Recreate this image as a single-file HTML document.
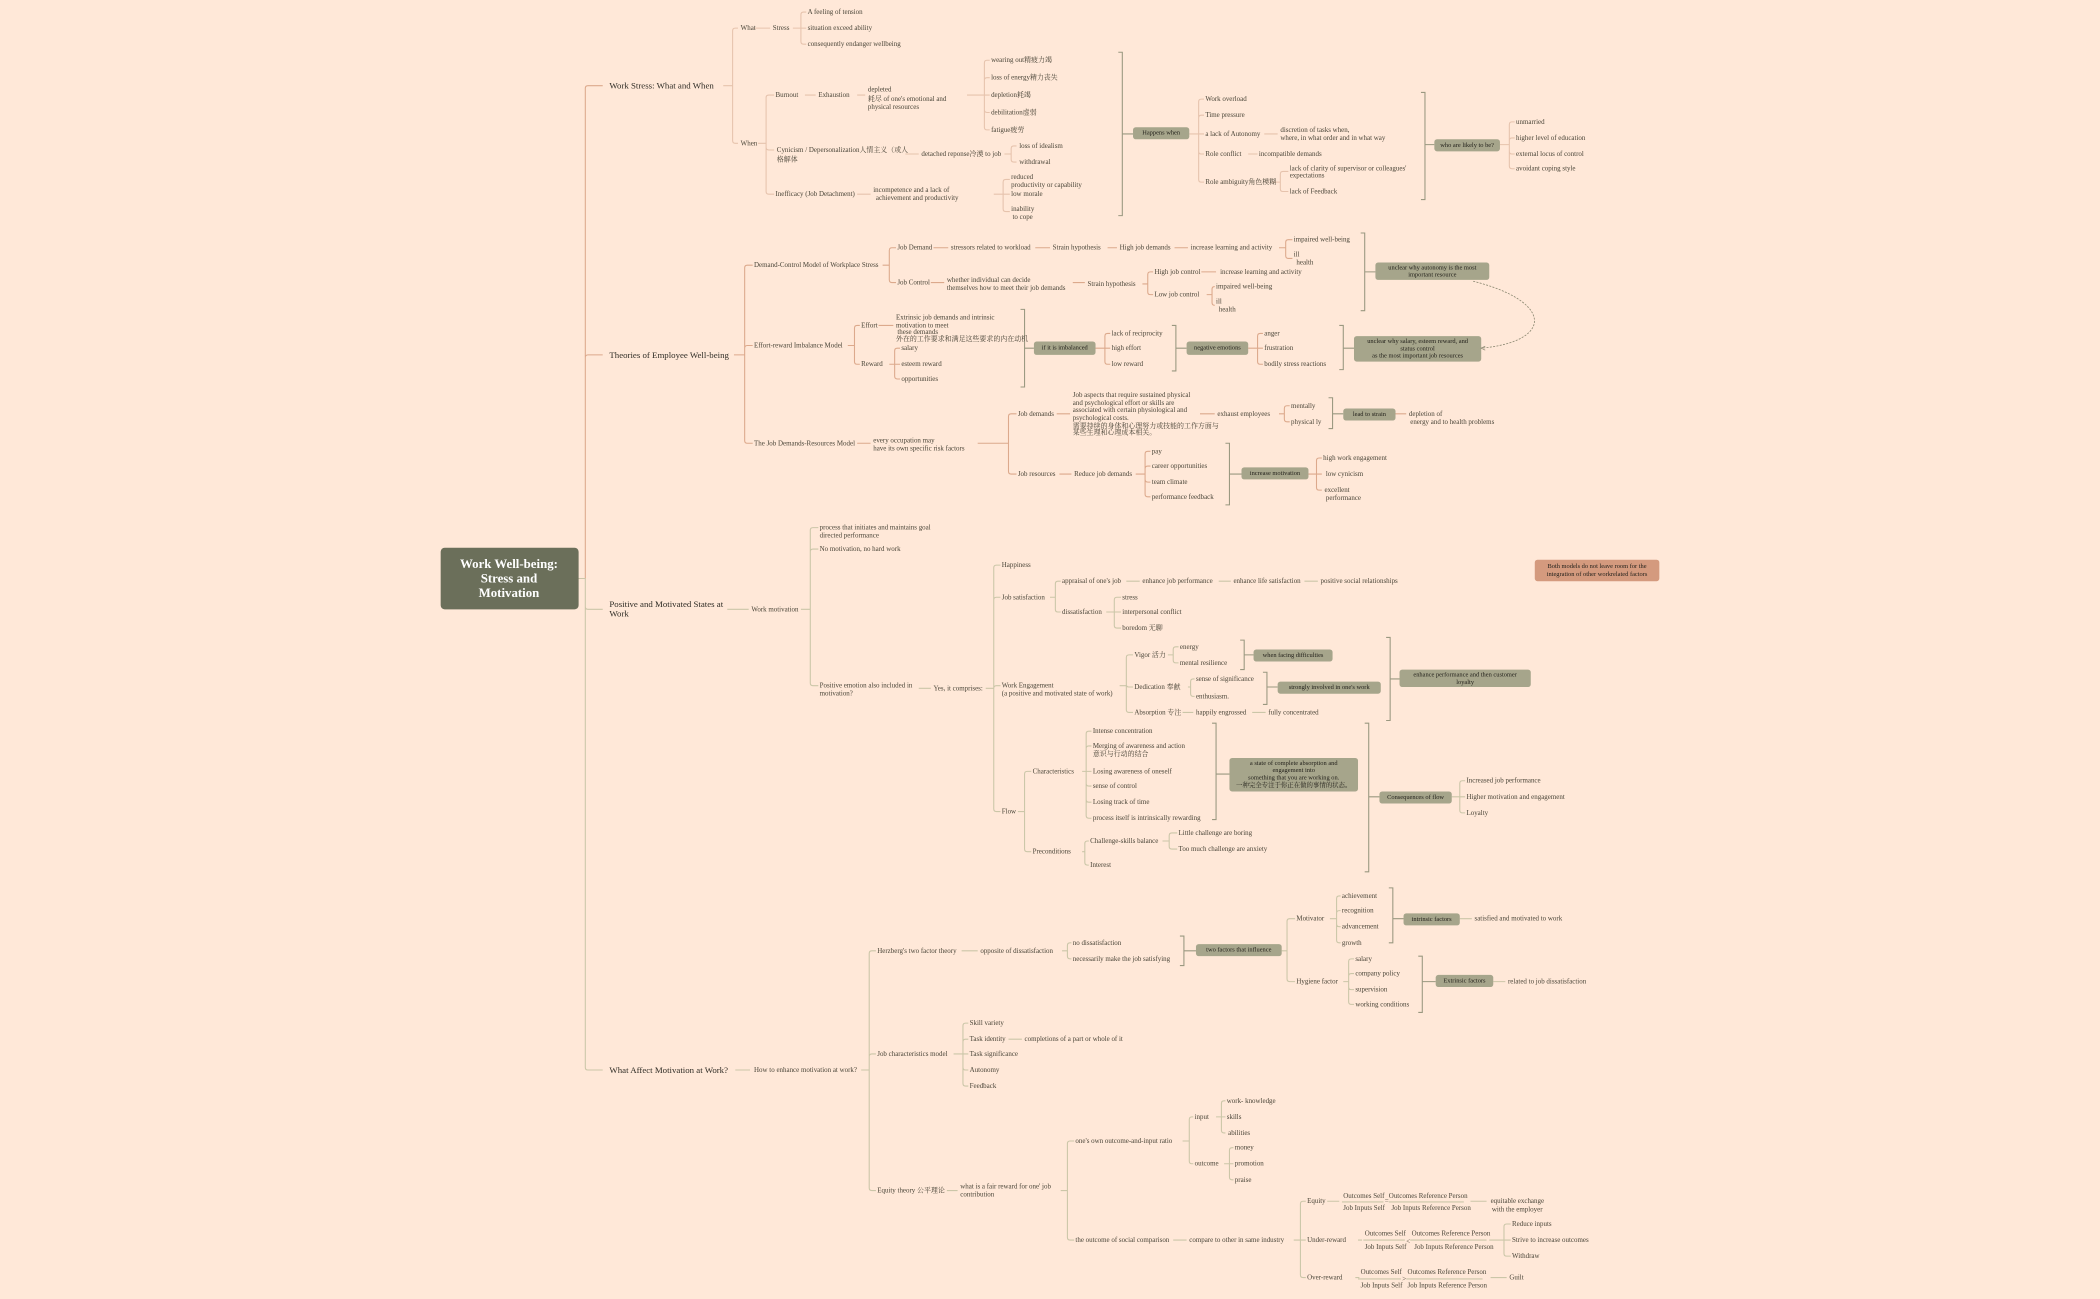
<!DOCTYPE html>
<html><head><meta charset="utf-8"><style>
html,body{margin:0;padding:0;background:#ffe8d8;}
svg{display:block}
text{font-family:"Liberation Serif","Noto Serif CJK SC","Noto Sans CJK SC",serif;dominant-baseline:central}
.s{font-size:5.2px;fill:#4a4538}
.b{font-size:6.6px;fill:#2f2c25}
.r{font-size:9.6px;fill:#fff;font-weight:bold;text-anchor:middle}
.bt{font-size:4.8px;fill:#24221c;text-anchor:middle}
.bx{fill:#a6a58b}
</style></head><body>
<svg id="m" width="2100" height="1299" viewBox="0 0 1568 970" xmlns="http://www.w3.org/2000/svg">
<rect width="1568" height="970" fill="#ffe8d8"/>
<g id="lines" fill="none" stroke-width="0.8"></g>
<rect x="329" y="409" width="103" height="46" rx="3" fill="#6b6f5a"/>
<text class="r" x="380" y="421">Work Well-being:</text>
<text class="r" x="380" y="432">Stress and</text>
<text class="r" x="380" y="443">Motivation</text>
<text class="b" x="455" y="64">Work Stress: What and When</text>
<text class="b" x="455" y="265">Theories of Employee Well-being</text>
<text class="b" x="455" y="451">Positive and Motivated States at</text>
<text class="b" x="455" y="458">Work</text>
<text class="b" x="455" y="799">What Affect Motivation at Work?</text>
<g class="s">
<text x="553" y="21">What</text><text x="577" y="21">Stress</text>
<text x="603" y="9">A feeling of tension</text>
<text x="603" y="21">situation exceed ability</text>
<text x="603" y="33">consequently endanger wellbeing</text>
<text x="553" y="107">When</text>
<text x="579" y="71">Burnout</text><text x="611" y="71">Exhaustion</text>
<text x="648" y="67">depleted</text><text x="648" y="74">耗尽 of one's emotional and</text><text x="648" y="80">physical resources</text>
<text x="740" y="45">wearing out精疲力竭</text><text x="740" y="58">loss of energy精力丧失</text><text x="740" y="71">depletion耗竭</text><text x="740" y="84">debilitation虚弱</text><text x="740" y="97">fatigue疲劳</text>
<text x="580" y="112">Cynicism / Depersonalization人情主义（或人</text><text x="580" y="119">格解体</text>
<text x="688" y="115">detached reponse冷漠 to job</text>
<text x="761" y="109">loss of idealism</text><text x="761" y="121">withdrawal</text>
<text x="579" y="145">Inefficacy (Job Detachment)</text>
<text x="652" y="142">incompetence and a lack of</text><text x="654" y="148">achievement and productivity</text>
<text x="755" y="132">reduced</text><text x="755" y="138">productivity or capability</text><text x="755" y="145">low morale</text><text x="755" y="156">inability</text><text x="756" y="162">to cope</text>
<text x="900" y="74">Work overload</text><text x="900" y="86">Time pressure</text><text x="900" y="100">a lack of Autonomy</text><text x="900" y="115">Role conflict</text><text x="900" y="136">Role ambiguity角色模糊</text>
<text x="956" y="97">discretion of tasks when,</text><text x="956" y="103">where, in what order and in what way</text>
<text x="940" y="115">incompatible demands</text>
<text x="963" y="126">lack of clarity of supervisor or colleagues'</text><text x="963" y="131">expectations</text>
<text x="963" y="143">lack of Feedback</text>
<text x="1132" y="91">unmarried</text><text x="1132" y="103">higher level of education</text><text x="1132" y="115">external locus of control</text><text x="1132" y="126">avoidant coping style</text>
<text x="563" y="198">Demand-Control Model of Workplace Stress</text>
<text x="670" y="185">Job Demand</text><text x="710" y="185">stressors related to workload</text><text x="786" y="185">Strain hypothesis</text><text x="836" y="185">High job demands</text><text x="889" y="185">increase learning and activity</text>
<text x="966" y="179">impaired well-being</text><text x="966" y="190">ill</text><text x="968" y="196">health</text>
<text x="670" y="211">Job Control</text><text x="707" y="209">whether individual can decide</text><text x="707" y="215">themselves how to meet their job demands</text>
<text x="812" y="212">Strain hypothesis</text><text x="862" y="203">High job control</text><text x="911" y="203">increase learning and activity</text>
<text x="862" y="220">Low job control</text><text x="908" y="214">impaired well-being</text><text x="908" y="225">ill</text><text x="910" y="231">health</text>
<text x="563" y="258">Effort-reward Imbalance Model</text>
<text x="643" y="243">Effort</text>
<text x="669" y="237">Extrinsic job demands and intrinsic</text><text x="669" y="243">motivation to meet</text><text x="670" y="248"> these demands</text><text x="669" y="253">外在的工作要求和满足这些要求的内在动机</text>
<text x="643" y="272">Reward</text><text x="673" y="260">salary</text><text x="673" y="272">esteem reward</text><text x="673" y="283">opportunities</text>
<text x="830" y="249">lack of reciprocity</text><text x="830" y="260">high effort</text><text x="830" y="272">low reward</text>
<text x="944" y="249">anger</text><text x="944" y="260">frustration</text><text x="944" y="272">bodily stress reactions</text>
<text x="563" y="331">The Job Demands-Resources Model</text>
<text x="652" y="329">every occupation may</text><text x="652" y="335">have its own specific risk factors</text>
<text x="760" y="309">Job demands</text>
<text x="801" y="295">Job aspects that require sustained physical</text><text x="801" y="301">and psychological effort or skills are</text><text x="801" y="306">associated with certain physiological and</text><text x="801" y="312">psychological costs.</text><text x="801" y="318">需要持续的身体和心理努力或技能的工作方面与</text><text x="801" y="323">某些生理和心理成本相关。</text>
<text x="909" y="309">exhaust employees</text><text x="964" y="303">mentally</text><text x="964" y="315">physical ly</text>
<text x="1052" y="309">depletion of</text><text x="1053" y="315">energy and to health problems</text>
<text x="760" y="354">Job resources</text><text x="802" y="354">Reduce job demands</text>
<text x="860" y="337">pay</text><text x="860" y="348">career opportunities</text><text x="860" y="360">team climate</text><text x="860" y="371">performance feedback</text>
<text x="988" y="342">high work engagement</text><text x="990" y="354">low cynicism</text><text x="989" y="366">excellent</text><text x="990" y="372">performance</text>
<text x="561" y="455">Work motivation</text>
<text x="612" y="394">process that initiates and maintains goal</text><text x="612" y="400">directed performance</text>
<text x="612" y="410">No motivation, no hard work</text>
<text x="612" y="512">Positive emotion also included in</text><text x="612" y="518">motivation?</text>
<text x="697" y="514">Yes, it comprises:</text>
<text x="748" y="422">Happiness</text><text x="748" y="446">Job satisfaction</text>
<text x="793" y="434">appraisal of one's job</text><text x="853" y="434">enhance job performance</text><text x="921" y="434">enhance life satisfaction</text><text x="986" y="434">positive social relationships</text>
<text x="793" y="457">dissatisfaction</text><text x="838" y="446">stress</text><text x="838" y="457">interpersonal conflict</text><text x="838" y="469">boredom 无聊</text>
<text x="748" y="512">Work Engagement</text><text x="748" y="518">(a positive and motivated state of work)</text>
<text x="847" y="489">Vigor 活力</text><text x="881" y="483">energy</text><text x="881" y="495">mental resilience</text>
<text x="847" y="513">Dedication 奉献</text><text x="893" y="507">sense of significance</text><text x="893" y="520">enthusiasm.</text>
<text x="847" y="532">Absorption 专注</text><text x="893" y="532">happily engrossed</text><text x="947" y="532">fully concentrated</text>
<text x="748" y="606">Flow</text><text x="771" y="576">Characteristics</text>
<text x="816" y="546">Intense concentration</text><text x="816" y="557">Merging of awareness and action</text><text x="816" y="563">意识与行动的结合</text><text x="816" y="576">Losing awareness of oneself</text><text x="816" y="587">sense of control</text><text x="816" y="599">Losing track of time</text><text x="816" y="611">process itself is intrinsically rewarding</text>
<text x="771" y="636">Preconditions</text><text x="814" y="628">Challenge-skills balance</text><text x="880" y="622">Little challenge  are boring</text><text x="880" y="634">Too much challenge  are anxiety</text><text x="814" y="646">Interest</text>
<text x="1095" y="583">Increased job performance</text><text x="1095" y="595">Higher motivation and engagement</text><text x="1095" y="607">Loyalty</text>
<text x="563" y="799">How to enhance motivation at work?</text>
<text x="655" y="710">Herzberg's two factor theory</text><text x="732" y="710">opposite of dissatisfaction</text>
<text x="801" y="704">no dissatisfaction</text><text x="801" y="716">necessarily make the job satisfying</text>
<text x="968" y="686">Motivator</text><text x="1002" y="669">achievement</text><text x="1002" y="680">recognition</text><text x="1002" y="692">advancement</text><text x="1002" y="704">growth</text>
<text x="1101" y="686">satisfied and motivated to work</text>
<text x="968" y="733">Hygiene factor</text><text x="1012" y="716">salary</text><text x="1012" y="727">company policy</text><text x="1012" y="739">supervision</text><text x="1012" y="750">working conditions</text>
<text x="1126" y="733">related to job dissatisfaction</text>
<text x="655" y="787">Job characteristics model</text>
<text x="724" y="764">Skill variety</text><text x="724" y="776">Task identity</text><text x="765" y="776">completions of a part or whole of it</text><text x="724" y="787">Task significance</text><text x="724" y="799">Autonomy</text><text x="724" y="811">Feedback</text>
<text x="655" y="889">Equity theory 公平理论</text><text x="717" y="886">what is a fair reward for one' job</text><text x="717" y="892">contribution</text>
<text x="803" y="852">one's own outcome-and-input ratio</text><text x="892" y="834">input</text><text x="916" y="822">work- knowledge</text><text x="916" y="834">skills</text><text x="917" y="846">abilities</text>
<text x="892" y="869">outcome</text><text x="922" y="857">money</text><text x="922" y="869">promotion</text><text x="922" y="881">praise</text>
<text x="803" y="926">the outcome of social comparison</text><text x="888" y="926">compare to other in same industry</text>
<text x="976" y="897">Equity</text><text x="1003" y="893">Outcomes Self</text><text x="1003" y="902">Job Inputs Self</text><text x="1034" y="897">=</text><text x="1037" y="893">Outcomes Reference Person</text><text x="1039" y="902">Job Inputs Reference Person</text>
<text x="1113" y="897">equitable exchange</text><text x="1114" y="903">with the employer</text>
<text x="976" y="926">Under-reward</text><text x="1019" y="921">Outcomes Self</text><text x="1019" y="931">Job Inputs Self</text><text x="1050" y="927">&lt;</text><text x="1054" y="921">Outcomes Reference Person</text><text x="1056" y="931">Job Inputs Reference Person</text>
<text x="1129" y="914">Reduce inputs</text><text x="1129" y="926">Strive to increase outcomes</text><text x="1129" y="938">Withdraw</text>
<text x="976" y="954">Over-reward</text><text x="1016" y="950">Outcomes Self</text><text x="1016" y="960">Job Inputs Self</text><text x="1047" y="955">&gt;</text><text x="1051" y="950">Outcomes Reference Person</text><text x="1051" y="960">Job Inputs Reference Person</text>
<text x="1127" y="954">Guilt</text>
</g>
<rect class="bx" x="846" y="95" width="42" height="9" rx="2"/><text class="bt" x="867" y="99.5">Happens when</text>
<rect class="bx" x="1071" y="104" width="49" height="9" rx="2"/><text class="bt" x="1095.5" y="108.5">who are likely to be?</text>
<rect class="bx" x="1027" y="196" width="85" height="13" rx="2"/><text class="bt" x="1069.5" y="200">unclear why autonomy is the most</text><text class="bt" x="1069.5" y="205.5">important resource</text>
<rect class="bx" x="772" y="255" width="46" height="10" rx="2"/><text class="bt" x="795" y="260">if it is imbalanced</text>
<rect class="bx" x="886" y="255" width="46" height="10" rx="2"/><text class="bt" x="909" y="260">negative emotions</text>
<rect class="bx" x="1011" y="251" width="95" height="19" rx="2"/><text class="bt" x="1058.5" y="255">unclear why salary, esteem reward, and</text><text class="bt" x="1058.5" y="260.5">status control</text><text class="bt" x="1058.5" y="266">as the most important job resources</text>
<rect class="bx" x="1003" y="305" width="39" height="9" rx="2"/><text class="bt" x="1022.5" y="309.5">lead to strain</text>
<rect class="bx" x="927" y="349" width="50" height="9" rx="2"/><text class="bt" x="952" y="353.5">increase motivation</text>
<rect x="1146" y="418" width="93" height="16" rx="2" fill="#d49a7e"/><text class="bt" x="1192.5" y="423">Both models do not leave room for the</text><text class="bt" x="1192.5" y="429">integration of other workrelated factors</text>
<rect class="bx" x="936" y="485" width="59" height="9" rx="2"/><text class="bt" x="965.5" y="489.5">when facing difficulties</text>
<rect class="bx" x="954" y="509" width="77" height="9" rx="2"/><text class="bt" x="992.5" y="513.5">strongly involved in one's work</text>
<rect class="bx" x="1045" y="500" width="98" height="13" rx="2"/><text class="bt" x="1094" y="504">enhance performance and then customer</text><text class="bt" x="1094" y="509.5">loyalty</text>
<rect class="bx" x="918" y="566" width="96" height="25" rx="2"/><text class="bt" x="966" y="570">a state of complete absorption and</text><text class="bt" x="966" y="575.5">engagement into</text><text class="bt" x="966" y="581">something that you are working on.</text><text class="bt" x="966" y="586.5">一种完全专注于你正在做的事情的状态。</text>
<rect class="bx" x="1030" y="591" width="54" height="9" rx="2"/><text class="bt" x="1057" y="595.5">Consequences of flow</text>
<rect class="bx" x="893" y="705" width="64" height="9" rx="2"/><text class="bt" x="925" y="709.5">two factors that influence</text>
<rect class="bx" x="1048" y="682" width="42" height="9" rx="2"/><text class="bt" x="1069" y="686.5">intrinsic factors</text>
<rect class="bx" x="1072" y="728" width="43" height="9" rx="2"/><text class="bt" x="1093.5" y="732.5">Extrinsic factors</text>
<path d="M1100,210 C1160,225 1160,255 1106,260" fill="none" stroke="#8a8770" stroke-width="0.6" stroke-dasharray="1.5,1"/>
<path d="M1109,258.5 L1106,260 L1109,261.5" fill="none" stroke="#8a8770" stroke-width="0.6"/>
</svg>
<script>
(function(){
var g=document.getElementById('lines'),d={};
function add(c,s){(d[c]=d[c]||[]).push(s);}
function T(c,px,py,vx,ch){add(c,'M'+px+','+py+'H'+vx);ch.forEach(function(k){var cy=k[0],cx=k[1];if(Math.abs(cy-py)<1){add(c,'M'+vx+','+py+'H'+cx);}else{var s=cy>py?-2:2;add(c,'M'+vx+','+py+'V'+(cy+s)+'Q'+vx+','+cy+' '+(vx+2)+','+cy+'H'+cx);}});}
function L(c,x1,x2,y){add(c,'M'+x1+','+y+'H'+x2);}
function B(x,y1,y2,ty,tx){add('#9a9880','M'+(x-3)+','+y1+'H'+x+'V'+y2+'H'+(x-3)+'M'+x+','+ty+'H'+tx);}
var P='#e6c3ad',O='#dca98c',G='#cbc6a8';
T(O,432,432,437,[[64,450],[265,450]]);T(G,432,432,437,[[455,450],[799,450]]);
T(P,540,64,547,[[21,551],[107,551]]);L(P,563,575,21);T(P,592,21,598,[[9,602],[21,602],[33,602]]);
T(P,566,107,572,[[71,578],[112,578],[145,578]]);L(P,601,609,71);L(P,640,646,71);
T(P,722,71,735,[[45,739],[58,739],[71,739],[84,739],[97,739]]);L(P,676,686,115);T(P,750,115,755,[[109,759],[121,759]]);
L(P,640,650,145);T(P,742,145,749,[[134,754],[145,754],[158,754]]);
B(838,39,161,100,846);T(P,888,100,895,[[74,899],[86,899],[100,899],[115,899],[136,899]]);
L(P,944,954,100);L(P,932,939,115);T(P,950,136,956,[[128,962],[143,962]]);
B(1064,69,149,108,1071);T(P,1120,108,1127,[[91,1131],[103,1131],[115,1131],[126,1131]]);
T(O,548,265,556,[[198,562],[258,562],[331,562]]);T(O,659,198,664,[[185,669],[211,669]]);
L(O,697,708,185);L(O,773,784,185);L(O,827,834,185);L(O,877,887,185);T(O,955,185,960,[[179,965],[193,965]]);
L(O,695,705,211);L(O,801,810,211);T(O,853,212,857,[[203,861],[220,861]]);L(O,897,908,203);T(O,901,220,905,[[214,907],[228,907]]);
B(1019,174,232,203,1027);
T(O,633,258,638,[[243,642],[272,642]]);L(O,656,667,243);T(O,664,272,668,[[260,672],[272,672],[283,672]]);
B(765,231,289,260,772);T(O,818,260,825,[[249,829],[260,829],[272,829]]);B(878,243,277,260,886);
T(O,932,260,939,[[249,943],[260,943],[272,943]]);B(1003,243,276,260,1011);
L(O,640,650,331);T(O,730,331,753,[[309,759],[354,759]]);L(O,789,799,309);L(O,896,907,309);
T(O,955,309,959,[[303,963],[315,963]]);B(995,297,320,309,1003);L(O,1042,1050,309);
L(O,791,800,354);T(O,848,354,855,[[337,859],[348,859],[360,859],[371,859]]);B(918,331,377,354,927);
T(O,977,354,983,[[342,987],[354,987],[366,987]]);
L(G,543,559,455);T(G,598,455,605,[[394,611],[410,611],[512,611]]);L(G,686,695,514);
T(G,736,514,742,[[422,747],[446,747],[512,747],[606,747]]);T(G,784,446,788,[[434,792],[457,792]]);
L(G,841,851,434);L(G,910,919,434);L(G,974,984,434);T(G,826,457,832,[[446,837],[457,837],[469,837]]);
T(G,836,512,841,[[489,846],[513,846],[532,846]]);T(G,872,489,876,[[483,880],[495,880]]);B(929,478,500,489,936);
T(G,887,513,889,[[507,892],[520,892]]);B(946,502,526,513,954);L(G,883,891,532);L(G,935,945,532);B(1038,476,538,507,1045);
T(G,760,606,765,[[576,770],[636,770]]);T(G,808,576,811,[[546,815],[557,815],[576,815],[587,815],[599,815],[611,815]]);
B(908,540,612,578,918);T(G,808,636,810,[[628,813],[646,813]]);T(G,868,628,873,[[622,879],[634,879]]);
B(1022,540,651,595,1030);T(G,1084,595,1090,[[583,1094],[595,1094],[607,1094]]);
L(G,549,560,799);T(G,643,799,649,[[710,654],[787,654],[889,654]]);L(G,718,730,710);
T(G,793,710,797,[[704,800],[716,800]]);B(884,699,721,710,893);T(G,957,710,961,[[686,967],[733,967]]);
T(G,993,686,998,[[669,1001],[680,1001],[692,1001],[704,1001]]);B(1040,663,704,686,1048);L(G,1090,1099,686);
T(G,1003,733,1007,[[716,1011],[727,1011],[739,1011],[750,1011]]);B(1062,714,756,733,1072);L(G,1115,1124,733);
T(G,712,787,719,[[764,723],[776,723],[787,723],[799,723],[811,723]]);L(G,753,763,776);
L(G,707,715,889);T(G,792,889,797,[[852,802],[926,802]]);T(G,883,852,888,[[834,891],[869,891]]);
T(G,908,834,912,[[822,915],[834,915],[846,915]]);T(G,914,869,918,[[857,921],[869,921],[881,921]]);
L(G,876,886,926);T(G,966,926,971,[[897,975],[926,975],[954,975]]);
L(G,991,1000,897);L(G,1098,1110,897);L(G,1002,1033,897.5);L(G,1037,1093,897.5);
L(G,1014,1017,926);L(G,1018,1049,926);L(G,1053,1110,926);T(G,1112,926,1123,[[914,1128],[926,1128],[938,1128]]);
L(G,1012,1015,954);L(G,1014,1046,955);L(G,1050,1107,955);L(G,1113,1125,954);
for(var c in d){var p=document.createElementNS('http://www.w3.org/2000/svg','path');p.setAttribute('d',d[c].join(''));p.setAttribute('stroke',c);g.appendChild(p);}
})();
</script>
</body></html>
